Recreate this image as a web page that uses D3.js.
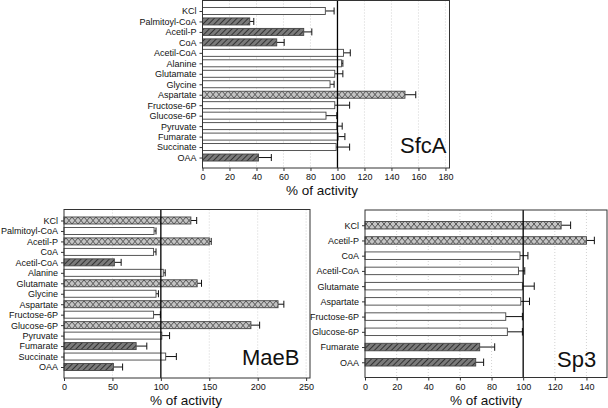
<!DOCTYPE html>
<html><head><meta charset="utf-8">
<script src="https://cdn.jsdelivr.net/npm/d3@7/dist/d3.min.js"></script>
<style>
html,body{margin:0;padding:0;background:#fff;}
svg{display:block;font-family:"Liberation Sans",Arial,Helvetica,sans-serif;}
</style></head>
<body>
<svg id="chart" width="608" height="408"></svg>
<script>
// ---------- DATA ----------
const sfcaCategories = ["KCl","Palmitoyl-CoA","Acetil-P","CoA","Acetil-CoA","Alanine","Glutamate","Glycine","Aspartate","Fructose-6P","Glucose-6P","Pyruvate","Fumarate","Succinate","OAA"];
const sfcaValues = [91, 35, 75, 55, 104.5, 103, 98, 94.5, 150, 98, 91.5, 99.5, 100.5, 99, 41.5];
const sfcaErrors = [6.5, 3, 6, 5.5, 5, 1, 6, 3, 8, 11, 8, 4, 5, 10, 9.5];
const sfcaFills = ["open","hatch","hatch","hatch","open","open","open","open","cross","open","open","open","open","open","hatch"];
const sfcaTicks = [0,20,40,60,80,100,120,140,160,180];

const maebCategories = ["KCl","Palmitoyl-CoA","Acetil-P","CoA","Acetil-CoA","Alanine","Glutamate","Glycine","Aspartate","Fructose-6P","Glucose-6P","Pyruvate","Fumarate","Succinate","OAA"];
const maebValues = [131, 93, 150, 92.5, 52, 102.5, 137.5, 95, 221, 92.5, 193, 101, 74.5, 105, 51];
const maebErrors = [6, 2, 2, 2.5, 7, 2, 4.5, 2.5, 6, 7, 9, 8, 11, 11, 9.5];
const maebFills = ["cross","open","cross","open","hatch","open","cross","open","cross","open","cross","open","hatch","open","hatch"];
const maebTicks = [0,50,100,150,200,250];

const sp3Categories = ["KCl","Acetil-P","CoA","Acetil-CoA","Glutamate","Aspartate","Fructose-6P","Glucose-6P","Fumarate","OAA"];
const sp3Values = [124, 140, 98, 97, 99.5, 98.5, 89, 90, 72.5, 70];
const sp3Errors = [6, 5, 5, 4, 7.5, 5.5, 10.5, 9.5, 9.5, 5];
const sp3Fills = ["cross","cross","open","open","open","open","open","open","hatch","hatch"];
const sp3Ticks = [0,20,40,60,80,100,120,140];

const xTitle = "% of activity";

// ---------- DRAW ----------
const svg = d3.select("#chart");
const defs = svg.append("defs");

// diagonal hatch
const ph = defs.append("pattern").attr("id","hatch").attr("patternUnits","userSpaceOnUse")
  .attr("width",4).attr("height",4).attr("patternTransform","rotate(45)");
ph.append("rect").attr("width",4).attr("height",4).attr("fill","#7a7a7a");
ph.append("line").attr("x1",0).attr("y1",0).attr("x2",0).attr("y2",4)
  .attr("stroke","#333").attr("stroke-width",2);

// cross hatch
const pc = defs.append("pattern").attr("id","cross").attr("patternUnits","userSpaceOnUse")
  .attr("width",6).attr("height",7);
pc.append("rect").attr("width",6).attr("height",7).attr("fill","#c4c4c4");
pc.append("path").attr("d","M0,0L6,7M6,0L0,7").attr("stroke","#555").attr("stroke-width",1);

const fillFor = f => f === "open" ? "#fff" : (f === "hatch" ? "url(#hatch)" : "url(#cross)");

function panel(cfg){
  const g = svg.append("g");
  const x = d3.scaleLinear().domain([0, cfg.max]).range([cfg.x0, cfg.x1]);
  const y = d3.scalePoint().domain(cfg.cats).range([cfg.y0, cfg.y1]).padding(cfg.pad);

  // grid
  g.selectAll("line.grid").data(cfg.ticks.filter(t => t > 0 && t !== 100)).join("line")
    .attr("x1", d => x(d)).attr("x2", d => x(d)).attr("y1", cfg.y0).attr("y2", cfg.y1)
    .attr("stroke","#c8c8c8").attr("stroke-width",0.8).attr("stroke-dasharray","1,2");

  // error bars
  const rows = cfg.cats.map((c,i) => ({c, v: cfg.vals[i], e: cfg.errs[i], f: cfg.fills[i]}));
  const eg = g.append("g").attr("stroke","#111").attr("stroke-width",1);
  rows.forEach(r => {
    const yc = y(r.c);
    eg.append("line").attr("x1", x(r.v)).attr("x2", x(r.v + r.e)).attr("y1", yc).attr("y2", yc);
    eg.append("line").attr("x1", x(r.v + r.e)).attr("x2", x(r.v + r.e))
      .attr("y1", yc - cfg.barH/2).attr("y2", yc + cfg.barH/2);
  });

  // bars
  g.selectAll("rect.bar").data(rows).join("rect")
    .attr("x", x(0)).attr("y", d => y(d.c) - cfg.barH/2)
    .attr("width", d => x(d.v) - x(0)).attr("height", cfg.barH)
    .attr("fill", d => fillFor(d.f)).attr("stroke","#444").attr("stroke-width",0.9);

  // 100% line
  g.append("line").attr("x1", x(100)).attr("x2", x(100)).attr("y1", cfg.y0).attr("y2", cfg.y1)
    .attr("stroke","#000").attr("stroke-width",1.3);

  // frame
  g.append("rect").attr("x", cfg.x0).attr("y", cfg.y0).attr("width", cfg.x1 - cfg.x0).attr("height", cfg.y1 - cfg.y0)
    .attr("fill","none").attr("stroke","#333").attr("stroke-width",1);

  // axes
  const ax = g.append("g").attr("transform", `translate(0,${cfg.y1})`)
    .call(d3.axisBottom(x).tickValues(cfg.ticks).tickSize(3).tickPadding(3).tickFormat(d3.format("d")));
  ax.select(".domain").remove();
  ax.selectAll("text").attr("font-size",9).attr("fill","#111").style("font-family","'Liberation Sans',Arial,sans-serif");
  ax.selectAll("line").attr("stroke","#333");

  const ay = g.append("g").attr("transform", `translate(${cfg.x0},0)`)
    .call(d3.axisLeft(y).tickSize(3).tickPadding(3));
  ay.select(".domain").remove();
  ay.selectAll("text").attr("font-size",9).attr("fill","#111").style("font-family","'Liberation Sans',Arial,sans-serif");
  ay.selectAll("line").attr("stroke","#333");

  // x title
  g.append("text").attr("x", cfg.titleX).attr("y", cfg.titleY).attr("text-anchor","middle")
    .attr("font-size",13.5).attr("fill","#111").text(xTitle);

  // panel label
  g.append("text").attr("x", cfg.labX).attr("y", cfg.labY).attr("font-size",22).attr("fill","#111").text(cfg.label);
}

panel({cats: sfcaCategories, vals: sfcaValues, errs: sfcaErrors, fills: sfcaFills, ticks: sfcaTicks,
  max: 183, x0: 202.5, x1: 449.5, y0: 0.5, y1: 168, pad: 1, barH: 7,
  titleX: 322, titleY: 195, label: "SfcA", labX: 400, labY: 153});

panel({cats: maebCategories, vals: maebValues, errs: maebErrors, fills: maebFills, ticks: maebTicks,
  max: 254, x0: 64, x1: 310, y0: 209.5, y1: 378, pad: 1.05, barH: 7,
  titleX: 186, titleY: 405, label: "MaeB", labX: 242, labY: 365});

panel({cats: sp3Categories, vals: sp3Values, errs: sp3Errors, fills: sp3Fills, ticks: sp3Ticks,
  max: 153, x0: 365, x1: 607, y0: 210, y1: 377.5, pad: 1, barH: 7.5,
  titleX: 486, titleY: 405, label: "Sp3", labX: 557, labY: 367});
</script>
</body></html>
